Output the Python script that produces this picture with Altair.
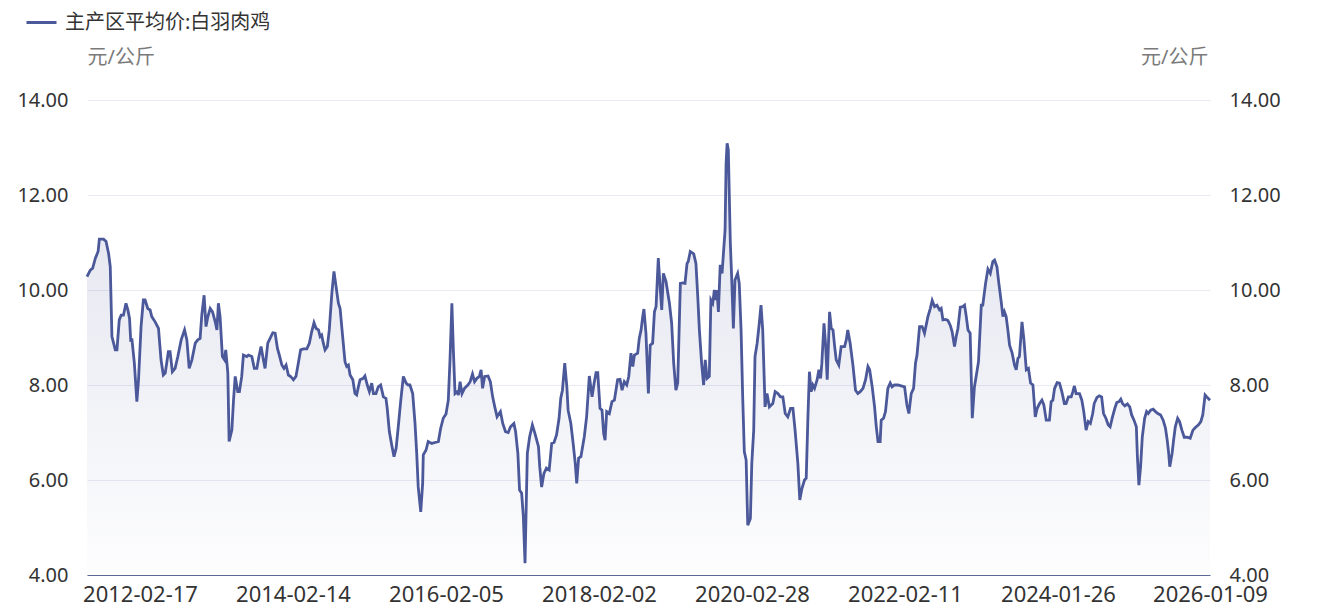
import altair as alt
import pandas as pd

# ---- data (decimal year, price in 元/公斤) ----
year_frac = [
    2011.436, 2011.479, 2011.509, 2011.544, 2011.580, 2011.597, 2011.652, 2011.684, 2011.718, 2011.740,
    2011.762, 2011.805, 2011.827, 2011.857, 2011.883, 2011.913, 2011.944, 2011.970, 2011.991, 2012.009,
    2012.022, 2012.056, 2012.087, 2012.108, 2012.143, 2012.173, 2012.195, 2012.230, 2012.260, 2012.282,
    2012.325, 2012.368, 2012.403, 2012.433, 2012.455, 2012.498, 2012.520, 2012.550, 2012.586, 2012.621,
    2012.664, 2012.707, 2012.738, 2012.768, 2012.803, 2012.846, 2012.881, 2012.911, 2012.933, 2012.963,
    2012.985, 2013.011, 2013.041, 2013.071, 2013.106, 2013.128, 2013.149, 2013.171, 2013.201, 2013.227,
    2013.245, 2013.271, 2013.288, 2013.323, 2013.344, 2013.366, 2013.401, 2013.422, 2013.453, 2013.474,
    2013.518, 2013.539, 2013.584, 2013.617, 2013.649, 2013.678, 2013.705, 2013.734, 2013.757, 2013.792,
    2013.822, 2013.857, 2013.887,
    2013.917, 2013.943, 2013.974, 2014.004, 2014.030, 2014.060, 2014.091, 2014.125, 2014.160, 2014.189,
    2014.220, 2014.254, 2014.298, 2014.331, 2014.362, 2014.392, 2014.418, 2014.448, 2014.470, 2014.491,
    2014.512, 2014.534, 2014.564, 2014.590, 2014.621, 2014.650, 2014.676, 2014.706, 2014.728, 2014.763,
    2014.792, 2014.814, 2014.835, 2014.857, 2014.892, 2014.921, 2014.943, 2014.964, 2014.986, 2015.028,
    2015.050, 2015.080, 2015.106, 2015.137, 2015.158, 2015.192, 2015.222, 2015.253, 2015.287, 2015.321,
    2015.338, 2015.364, 2015.395, 2015.425, 2015.451, 2015.480, 2015.511, 2015.545, 2015.580, 2015.609,
    2015.631, 2015.666, 2015.696, 2015.718, 2015.738, 2015.769, 2015.795, 2015.803, 2015.838, 2015.867,
    2015.911, 2015.954, 2015.997, 2016.028, 2016.061, 2016.096, 2016.126, 2016.148, 2016.171, 2016.192,
    2016.214, 2016.244,
    2016.257, 2016.280, 2016.302, 2016.336, 2016.380, 2016.411, 2016.441, 2016.467, 2016.498, 2016.529,
    2016.551, 2016.572, 2016.598, 2016.643, 2016.673, 2016.703, 2016.729, 2016.760, 2016.804, 2016.834,
    2016.869, 2016.905, 2016.935, 2016.978, 2017.000, 2017.030, 2017.053, 2017.079, 2017.101, 2017.122,
    2017.141, 2017.154, 2017.184, 2017.219, 2017.253, 2017.298, 2017.315, 2017.341, 2017.371, 2017.403,
    2017.437, 2017.472, 2017.502, 2017.534, 2017.568, 2017.590, 2017.612, 2017.642, 2017.669, 2017.686,
    2017.721, 2017.751, 2017.777, 2017.796, 2017.822, 2017.852, 2017.895, 2017.927, 2017.961, 2017.996,
    2018.026, 2018.049, 2018.071, 2018.102, 2018.129, 2018.152, 2018.169, 2018.192, 2018.227, 2018.264,
    2018.295, 2018.341, 2018.372, 2018.399, 2018.431, 2018.463, 2018.490, 2018.521, 2018.544, 2018.566,
    2018.612, 2018.634, 2018.657, 2018.680, 2018.697,
    2018.724, 2018.755, 2018.782, 2018.815, 2018.837, 2018.860, 2018.891, 2018.918, 2018.937, 2018.958,
    2018.995, 2019.040, 2019.072, 2019.099, 2019.130, 2019.153, 2019.189, 2019.221, 2019.252, 2019.279,
    2019.297, 2019.324, 2019.370, 2019.401, 2019.424, 2019.446, 2019.478, 2019.505, 2019.527, 2019.550,
    2019.581, 2019.604, 2019.627, 2019.649, 2019.672, 2019.685, 2019.703, 2019.730, 2019.753, 2019.776,
    2019.794, 2019.807, 2019.821, 2019.838, 2019.852, 2019.865, 2019.884, 2019.906, 2019.929, 2019.965,
    2019.987, 2020.010, 2020.033, 2020.055, 2020.078, 2020.101, 2020.136, 2020.155, 2020.181, 2020.197,
    2020.223, 2020.252, 2020.274, 2020.296, 2020.325, 2020.351, 2020.380, 2020.424, 2020.453, 2020.488,
    2020.521, 2020.552, 2020.581, 2020.615, 2020.649, 2020.679, 2020.709, 2020.743, 2020.769, 2020.794,
    2020.828, 2020.849, 2020.871, 2020.892, 2020.913, 2020.935, 2020.955, 2020.990, 2021.012, 2021.032,
    2021.050, 2021.076, 2021.096, 2021.118,
    2021.147, 2021.169, 2021.191, 2021.211, 2021.233, 2021.267, 2021.297, 2021.339, 2021.361, 2021.382,
    2021.412, 2021.446, 2021.480, 2021.510, 2021.540, 2021.574, 2021.607, 2021.638, 2021.659, 2021.693,
    2021.723, 2021.744, 2021.766, 2021.795, 2021.808, 2021.838, 2021.863, 2021.894, 2021.923, 2021.949,
    2021.978, 2022.022, 2022.064, 2022.106, 2022.137, 2022.162, 2022.192, 2022.221, 2022.247, 2022.265,
    2022.298, 2022.332, 2022.362, 2022.405, 2022.435, 2022.460, 2022.490, 2022.520, 2022.554, 2022.575,
    2022.597, 2022.630, 2022.661, 2022.690, 2022.716, 2022.745, 2022.767, 2022.789, 2022.818, 2022.853,
    2022.873, 2022.895, 2022.917, 2022.946, 2022.972, 2023.001, 2023.023, 2023.052, 2023.087, 2023.108,
    2023.142, 2023.172, 2023.202, 2023.236, 2023.257, 2023.287, 2023.313, 2023.342, 2023.364, 2023.384,
    2023.406, 2023.428, 2023.448, 2023.483, 2023.512,
    2023.534, 2023.556, 2023.576, 2023.607, 2023.633, 2023.662, 2023.691, 2023.717, 2023.748, 2023.777,
    2023.803, 2023.832, 2023.863, 2023.888, 2023.918, 2023.960, 2023.982, 2024.003, 2024.024, 2024.058,
    2024.088, 2024.118, 2024.151, 2024.173, 2024.202, 2024.237, 2024.259, 2024.279, 2024.301, 2024.343,
    2024.373, 2024.399, 2024.428, 2024.457, 2024.483, 2024.514, 2024.534, 2024.568, 2024.598, 2024.628,
    2024.654, 2024.683, 2024.712, 2024.738, 2024.769, 2024.798, 2024.823, 2024.853, 2024.874, 2024.896,
    2024.925, 2024.960, 2024.989, 2025.015, 2025.044, 2025.075, 2025.087, 2025.108, 2025.129, 2025.151,
    2025.180, 2025.206, 2025.228, 2025.257, 2025.291, 2025.321, 2025.350, 2025.385, 2025.419, 2025.448,
    2025.470, 2025.490, 2025.503, 2025.534, 2025.554, 2025.576, 2025.605, 2025.631, 2025.661, 2025.691,
    2025.725, 2025.767, 2025.802, 2025.831, 2025.873, 2025.904, 2025.929, 2025.958, 2025.980, 2026.022,
]

price = [
    10.28, 10.42, 10.46, 10.67, 10.81, 11.07, 11.07, 11.02, 10.77, 10.49,
    9.02, 8.74, 8.74, 9.37, 9.47, 9.47, 9.72, 9.58, 9.40, 8.91,
    8.98, 8.46, 7.65, 8.11, 9.23, 9.79, 9.79, 9.61, 9.58, 9.44,
    9.33, 9.19, 8.53, 8.21, 8.25, 8.70, 8.70, 8.28, 8.35, 8.60,
    8.95, 9.16, 8.95, 8.35, 8.53, 8.88, 8.95, 8.98, 9.47, 9.89,
    9.23, 9.44, 9.61, 9.54, 9.33, 9.16, 9.72, 9.44, 8.60, 8.53,
    8.74, 8.25, 6.81, 7.05, 7.68, 8.18, 7.86, 7.86, 8.18, 8.63,
    8.60, 8.63, 8.60, 8.35, 8.35, 8.60, 8.81, 8.53, 8.35, 8.88,
    8.98, 9.10, 9.09,
    8.77, 8.63, 8.42, 8.35, 8.42, 8.21, 8.18, 8.11, 8.18, 8.46,
    8.74, 8.76, 8.76, 8.88, 9.12, 9.31, 9.19, 9.16, 9.02, 9.05,
    8.88, 8.74, 8.81, 9.16, 9.93, 10.39, 10.07, 9.72, 9.61, 9.02,
    8.49, 8.39, 8.42, 8.21, 8.11, 7.82, 7.79, 7.96, 8.11, 8.14,
    8.19, 8.00, 7.86, 8.04, 7.82, 7.82, 7.96, 8.00, 7.75, 7.72,
    7.51, 7.02, 6.74, 6.49, 6.67, 7.12, 7.68, 8.18, 8.04, 8.00,
    8.00, 7.82, 7.19, 6.56, 5.86, 5.33, 5.93, 6.53, 6.63, 6.81,
    6.77, 6.79, 6.81, 7.09, 7.30, 7.39, 7.68, 8.53, 9.72, 8.74,
    7.82, 7.86,
    7.79, 8.07, 7.82, 7.93, 8.00, 8.07, 8.23, 8.07, 8.14, 8.18,
    8.32, 7.93, 8.18, 8.19, 8.07, 7.75, 7.54, 7.33, 7.44, 7.19,
    7.02, 7.00, 7.12, 7.19, 7.02, 6.56, 5.79, 5.72, 5.23, 4.25,
    5.51, 6.56, 6.91, 7.16, 6.98, 6.70, 6.28, 5.85, 6.14, 6.25,
    6.21, 6.77, 6.79, 6.95, 7.30, 7.72, 7.89, 8.46, 7.96, 7.47,
    7.19, 6.77, 6.35, 5.93, 6.46, 6.49, 6.91, 7.33, 8.19, 7.75,
    8.04, 8.26, 8.26, 7.51, 7.47, 6.98, 6.84, 7.44, 7.40, 7.65,
    7.68, 8.11, 8.12, 7.89, 8.07, 8.00, 8.18, 8.67, 8.39, 8.63,
    8.67, 8.98, 9.16, 9.44, 9.60,
    9.09, 7.82, 8.84, 8.88, 9.54, 9.65, 10.67, 10.00, 9.58, 10.35,
    10.18, 9.72, 9.30, 8.46, 7.89, 8.04, 10.14, 10.15, 10.14, 10.56,
    10.60, 10.81, 10.76, 10.56, 9.86, 9.16, 8.46, 8.00, 8.53, 8.14,
    8.18, 9.79, 9.72, 10.00, 9.79, 10.00, 9.54, 10.53, 10.35, 10.84,
    11.26, 12.67, 13.09, 12.95, 11.96, 10.98, 10.21, 9.19, 10.21, 10.35,
    10.14, 9.16, 7.75, 6.60, 6.42, 5.05, 5.19, 6.35, 7.05, 8.60,
    8.88, 9.30, 9.68, 9.16, 7.54, 7.82, 7.54, 7.61, 7.86, 7.82,
    7.75, 7.75, 7.40, 7.33, 7.51, 7.51, 7.05, 6.35, 5.58, 5.82,
    6.00, 6.04, 7.33, 8.28, 7.86, 8.00, 7.93, 8.11, 8.32, 8.14,
    8.46, 9.30, 8.88, 8.11,
    9.54, 9.19, 9.16, 8.84, 8.53, 8.42, 8.81, 8.81, 8.95, 9.16,
    8.88, 8.42, 7.89, 7.82, 7.86, 7.93, 8.11, 8.39, 8.32, 7.96,
    7.54, 7.12, 6.81, 6.81, 7.26, 7.30, 7.44, 7.93, 8.04, 7.96,
    8.00, 8.00, 7.98, 7.96, 7.58, 7.40, 7.82, 7.93, 8.46, 8.63,
    9.23, 9.23, 9.09, 9.44, 9.61, 9.78, 9.65, 9.68, 9.58, 9.61,
    9.37, 9.38, 9.36, 9.26, 9.12, 8.81, 9.02, 9.19, 9.64, 9.65,
    9.68, 9.44, 9.16, 9.09, 7.30, 7.96, 8.18, 8.49, 9.68, 9.68,
    10.14, 10.44, 10.35, 10.60, 10.63, 10.49, 10.14, 9.75, 9.44, 9.54,
    9.44, 9.16, 8.84, 8.67, 8.42,
    8.32, 8.56, 8.60, 9.33, 8.95, 8.32, 8.35, 8.04, 8.00, 7.33,
    7.51, 7.61, 7.68, 7.58, 7.26, 7.26, 7.65, 7.68, 7.93, 8.05,
    8.04, 7.86, 7.61, 7.61, 7.75, 7.75, 7.86, 7.98, 7.82, 7.82,
    7.68, 7.44, 7.05, 7.23, 7.19, 7.40, 7.61, 7.74, 7.77, 7.75,
    7.40, 7.30, 7.16, 7.12, 7.33, 7.51, 7.63, 7.65, 7.70, 7.61,
    7.56, 7.60, 7.54, 7.37, 7.26, 7.12, 6.49, 5.89, 6.28, 6.91,
    7.30, 7.44, 7.40, 7.47, 7.49, 7.44, 7.40, 7.37, 7.26, 7.09,
    6.84, 6.56, 6.28, 6.56, 6.84, 7.12, 7.30, 7.23, 7.05, 6.90,
    6.90, 6.88, 7.05, 7.10, 7.16, 7.23, 7.37, 7.79, 7.75, 7.68,
]

# axis labels of the reference (a category axis: labels are equally spaced)
start_date = "2011-06-09"
tick_dates = ["2012-02-17", "2014-02-14", "2016-02-05", "2018-02-02",
              "2020-02-28", "2022-02-11", "2024-01-26", "2026-01-09"]
y_ticks = [4, 6, 8, 10, 12, 14]
series_name = "主产区平均价:白羽肉鸡"
unit = "元/公斤"

LINE = "#4b5899"
FONT = "Noto Sans, Noto Sans CJK SC"

PLOT_W, PLOT_H = 1123, 475
FIRST_GAP = 53      # plot start to first labelled date
LABEL_STEP = 153    # equal spacing between labelled dates (category axis)


def frac_to_ts(t):
    y = int(t)
    leap = (y % 4 == 0 and (y % 100 != 0 or y % 400 == 0))
    days = 366 if leap else 365
    d = pd.Timestamp(year=y, month=1, day=1) + pd.Timedelta(days=round((t - y) * days))
    return int(d.value // 10**6)          # epoch ms (UTC midnight)


def str_to_ts(s):
    return int(pd.Timestamp(s).value // 10**6)


df = pd.DataFrame({
    "ts": [frac_to_ts(t) for t in year_frac],
    "price": price,
    "series": series_name,
})

x_domain = [str_to_ts(start_date)] + [str_to_ts(d) for d in tick_dates]
x_range = [0] + [FIRST_GAP + LABEL_STEP * i for i in range(len(tick_dates) - 1)] + [PLOT_W]

x_enc = alt.X(
    "ts:Q",
    scale=alt.Scale(domain=x_domain, range=x_range, nice=False, zero=False),
    axis=alt.Axis(
        values=[str_to_ts(d) for d in tick_dates],
        labelExpr="utcFormat(datum.value, '%Y-%m-%d')",
        title=None, grid=False, ticks=False,
        domainColor="#5d6894", domainWidth=1,
        labelFont=FONT, labelFontSize=22, labelColor="#333333",
        labelPadding=9, labelFlush=False, labelOverlap=False,
        zindex=1,
    ),
)

y_scale = alt.Scale(domain=[4, 14], nice=False, zero=False)


def y_axis(orient):
    return alt.Axis(
        orient=orient, values=y_ticks, format=".2f", title=unit,
        titleAngle=0, titleAlign="left" if orient == "left" else "right",
        titleBaseline="middle", titleX=0 if orient == "left" else -2, titleY=-43,
        titleFont=FONT, titleFontSize=20, titleFontWeight="normal", titleColor="#7a7a7a",
        labelFont=FONT, labelFontSize=20, labelColor="#333333", labelPadding=19,
        ticks=False, domain=False, grid=(orient == "left"), gridColor="#e9eaf3",
    )


area = alt.Chart(df).mark_area(
    color=alt.Gradient(
        gradient="linear",
        stops=[alt.GradientStop(color="rgba(75,88,153,0.17)", offset=0),
               alt.GradientStop(color="rgba(75,88,153,0.01)", offset=1)],
        x1=1, x2=1, y1=0, y2=1,
    ),
).encode(
    x=x_enc,
    y=alt.Y("price:Q", scale=y_scale, axis=y_axis("left")),
    y2=alt.datum(4),
)

line = alt.Chart(df).mark_line(strokeWidth=2.8).encode(
    x=x_enc,
    y=alt.Y("price:Q", scale=y_scale, axis=y_axis("right")),
    color=alt.Color(
        "series:N",
        scale=alt.Scale(range=[LINE]),
        legend=alt.Legend(
            title=None, orient="none", legendX=-62, legendY=-94, padding=0,
            symbolType="stroke", symbolSize=900, symbolStrokeWidth=3,
            labelFont=FONT, labelFontSize=20, labelColor="#333333",
            labelOffset=7, labelLimit=0,
        ),
    ),
)

chart = alt.layer(area, line).resolve_scale(y="independent").properties(
    width=PLOT_W,
    height=PLOT_H,
    autosize=alt.AutoSizeParams(type="none"),
    padding={"left": 79, "top": 92, "right": 100, "bottom": 34},
    background="white",
).configure_view(stroke=None)

chart.save("out.html", embed_options={"renderer": "svg", "actions": False})
